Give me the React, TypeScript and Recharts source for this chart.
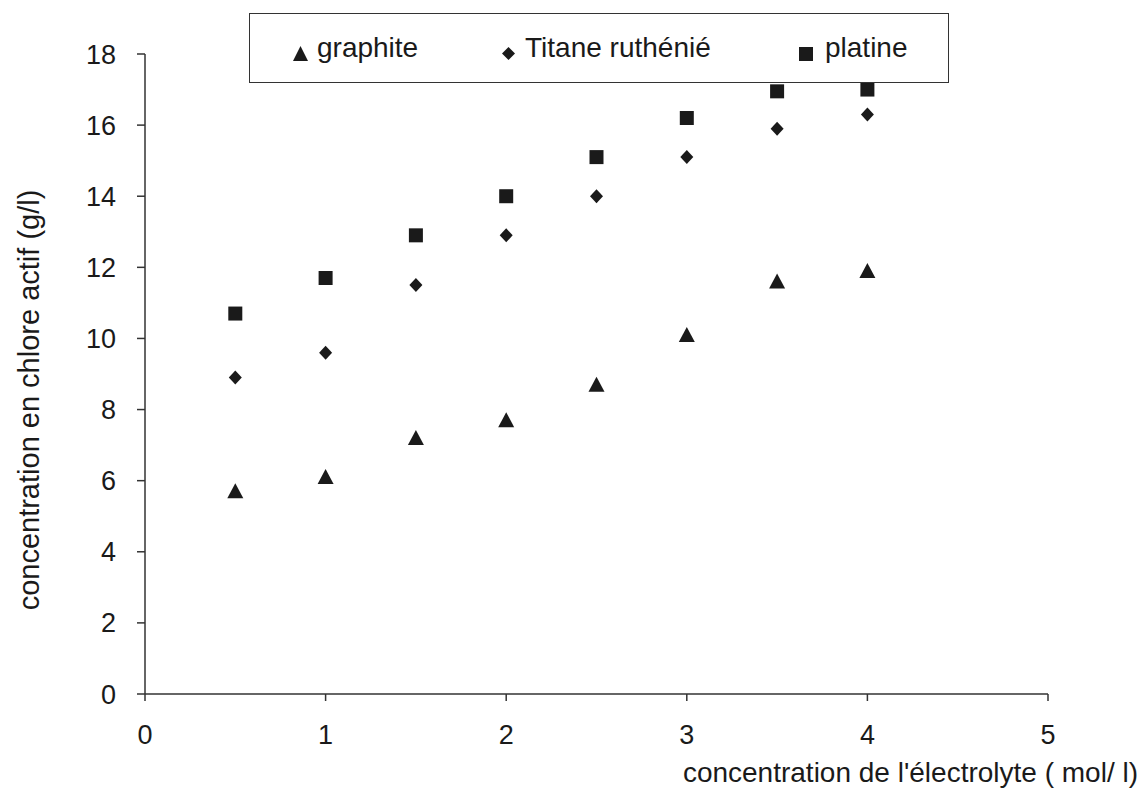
import { ScatterChart, Scatter, XAxis, YAxis, Legend } from 'recharts';

const xValues = [0.5, 1, 1.5, 2, 2.5, 3, 3.5, 4];
const graphite = [5.7, 6.1, 7.2, 7.7, 8.7, 10.1, 11.6, 11.9];
const titane = [8.9, 9.6, 11.5, 12.9, 14.0, 15.1, 15.9, 16.3];
const platine = [10.7, 11.7, 12.9, 14.0, 15.1, 16.2, 16.95, 17.0];
const xTicks = [0, 1, 2, 3, 4, 5];
const yTicks = [0, 2, 4, 6, 8, 10, 12, 14, 16, 18];

const toPoints = (ys: number[]) => xValues.map((x, i) => ({ x, y: ys[i] }));

const FONT = '"Liberation Sans", Arial, sans-serif';
const INK = '#1a1a1a';

const Triangle = ({ cx, cy }: any) => (
  <polygon points={`${cx},${cy - 8} ${cx - 8},${cy + 7} ${cx + 8},${cy + 7}`} fill={INK} />
);
const Diamond = ({ cx, cy }: any) => (
  <polygon points={`${cx},${cy - 7} ${cx + 6.5},${cy} ${cx},${cy + 7} ${cx - 6.5},${cy}`} fill={INK} />
);
const Square = ({ cx, cy }: any) => (
  <rect x={cx - 7} y={cy - 7} width={14} height={14} fill={INK} />
);

// legend positions relative to the box
const legendItems = [
  { label: 'graphite', shape: 'triangle', left: 42, textLeft: 67 },
  { label: 'Titane ruthénié', shape: 'diamond', left: 250, textLeft: 275 },
  { label: 'platine', shape: 'square', left: 548, textLeft: 575 },
];

const LegendBox = () => (
  <div
    style={{
      position: 'relative',
      width: 700,
      height: 70,
      border: '1.5px solid #333',
      boxSizing: 'border-box',
      fontFamily: FONT,
      fontSize: 28,
      color: INK,
      background: '#fff',
    }}
  >
    {legendItems.map((it) => (
      <div key={it.label}>
        <svg width={17} height={17} style={{ position: 'absolute', left: it.left, top: 31 }}>
          {it.shape === 'triangle' && <polygon points="8.5,1 1,16 16,16" fill={INK} />}
          {it.shape === 'diamond' && <polygon points="8.5,2 15,8.5 8.5,15 2,8.5" fill={INK} />}
          {it.shape === 'square' && <rect x={1} y={2} width={14} height={14} fill={INK} />}
        </svg>
        <span style={{ position: 'absolute', left: it.textLeft, top: 18, lineHeight: '32px' }}>{it.label}</span>
      </div>
    ))}
  </div>
);

const XLabel = ({ viewBox }: any) => {
  const { x, y, width } = viewBox;
  return (
    <text x={x + width + 90} y={y + 88} textAnchor="end" fontFamily={FONT} fontSize={28} fill={INK}>
      concentration de l'électrolyte ( mol/ l)
    </text>
  );
};

const YLabel = () => (
  <text
    x={31}
    y={400}
    transform="rotate(-90, 31, 400)"
    textAnchor="middle"
    dominantBaseline="middle"
    fontFamily={FONT}
    fontSize={29}
    fill={INK}
  >
    concentration en chlore actif (g/l)
  </text>
);

export default function App() {
  return (
    <div style={{ position: 'absolute', left: 0, top: 0, background: '#fff' }}>
      <ScatterChart width={1145} height={791} margin={{ top: 54, right: 97, left: 85, bottom: 67 }}>
        <XAxis
          type="number"
          dataKey="x"
          domain={[0, 5]}
          ticks={xTicks}
          height={30}
          tickSize={7}
          tickMargin={24}
          stroke="#333"
          strokeWidth={1.5}
          tick={{ fill: INK, fontSize: 27, fontFamily: FONT }}
          label={<XLabel />}
        />
        <YAxis
          type="number"
          dataKey="y"
          domain={[0, 18]}
          ticks={yTicks}
          width={60}
          tickSize={8}
          tickMargin={21}
          stroke="#333"
          strokeWidth={1.5}
          tick={{ fill: INK, fontSize: 27, fontFamily: FONT }}
          label={<YLabel />}
        />
        <Legend
          content={<LegendBox />}
          wrapperStyle={{ position: 'absolute', left: 249, top: 13, width: 700, height: 0 }}
        />
        <Scatter name="graphite" data={toPoints(graphite)} shape={<Triangle />} isAnimationActive={false} />
        <Scatter name="Titane ruthénié" data={toPoints(titane)} shape={<Diamond />} isAnimationActive={false} />
        <Scatter name="platine" data={toPoints(platine)} shape={<Square />} isAnimationActive={false} />
      </ScatterChart>
    </div>
  );
}
